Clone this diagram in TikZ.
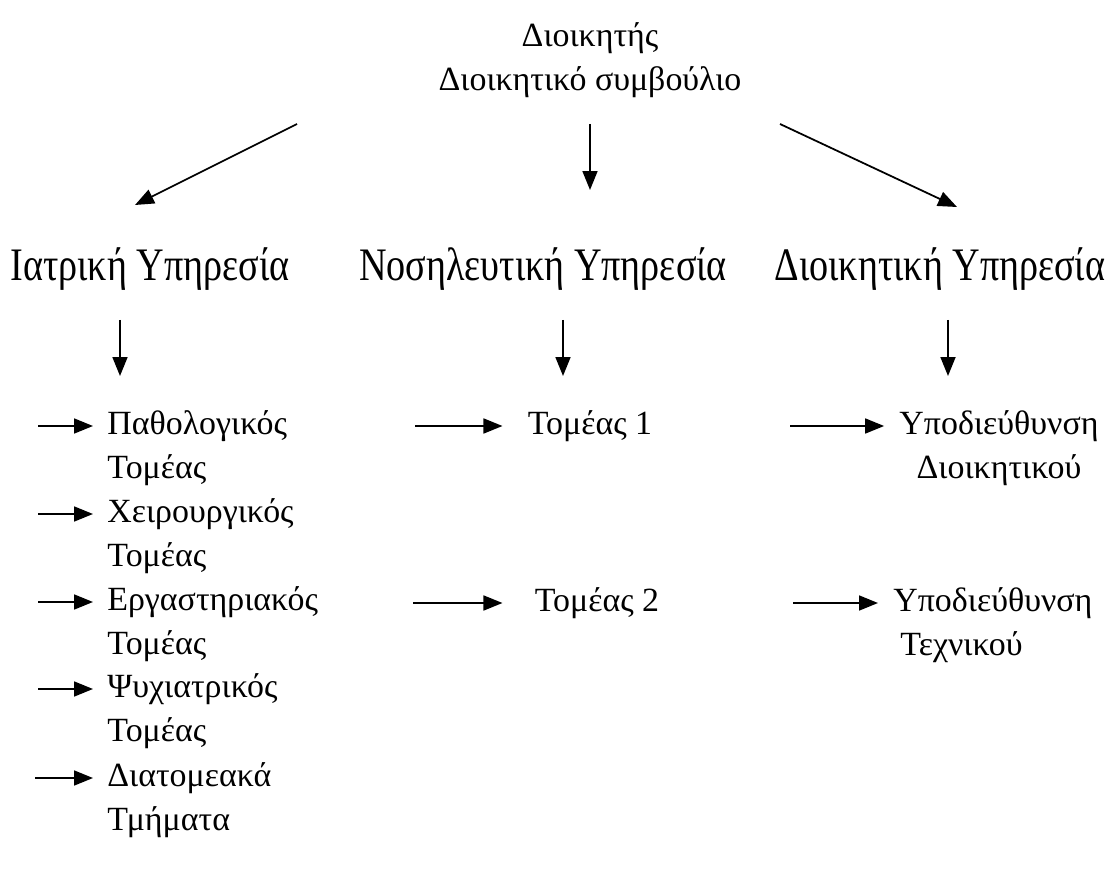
\documentclass[tikz,border=0pt]{standalone}
\usepackage{fontspec}
\setmainfont{Liberation Serif}
\newfontfamily\narrowfont[FakeStretch=0.82]{Liberation Serif}
\usetikzlibrary{arrows.meta,positioning}

\begin{document}
\begin{tikzpicture}[x=0.02cm, y=-0.02cm,
  txt/.style={font=\fontsize{19.3}{25}\selectfont, inner sep=0pt, align=left},
  svc/.style={font=\narrowfont\fontsize{26.5}{30}\selectfont, inner sep=0pt},
  arr/.style={-{Triangle[length=0.38cm, width=0.3cm]}, line width=1pt}
]
  \useasboundingbox (0,0) rectangle (1115,888);

  % Head
  \node[txt, align=center] (head) at (590,60) {Διοικητής\\Διοικητικό συμβούλιο};

  % Services
  \node[svc] (med) at (150,269) {Ιατρική Υπηρεσία};
  \node[svc] (nurs) at (543,269) {Νοσηλευτική Υπηρεσία};
  \node[svc] (adm) at (940,269) {Διοικητική Υπηρεσία};

  % Head to services
  \coordinate (hm) at (297,124); \coordinate (me) at (135,205);
  \coordinate (hn) at (590,124); \coordinate (ne) at (590,190);
  \coordinate (ha) at (780,124); \coordinate (ae) at (957,207);
  \draw[arr] (hm) -- (me);
  \draw[arr] (hn) -- (ne);
  \draw[arr] (ha) -- (ae);

  % Down arrows
  \foreach \s/\x in {med/120, nurs/563, adm/948} {
    \coordinate (\s-d) at (\x,320);
    \coordinate (\s-e) at (\x,376);
    \draw[arr] (\s-d) -- (\s-e);
  }

  % Medical sectors
  \foreach \n/\y/\x/\a/\b in {pat/448/38/Παθολογικός/Τομέας,
                              chi/536/38/Χειρουργικός/Τομέας,
                              erg/624/38/Εργαστηριακός/Τομέας,
                              psy/711/38/Ψυχιατρικός/Τομέας,
                              dia/800/35/Διατομεακά/Τμήματα} {
    \node[txt, anchor=west] (\n) at (107,\y) {\a\\\b};
    \coordinate (\n-s) at (\x,\y-22);
    \draw[arr, shorten >=0.28cm] (\n-s) -- (\n-s -| \n.west);
  }

  % Nursing sectors
  \node[txt] (t1) at (590,426) {Τομέας 1};
  \node[txt] (t2) at (597,603) {Τομέας 2};
  \coordinate (t1-s) at (415,426);
  \coordinate (t2-s) at (413,603);
  \draw[arr, shorten >=0.5cm] (t1-s) -- (t1-s -| t1.west);
  \draw[arr, shorten >=0.64cm] (t2-s) -- (t2-s -| t2.west);

  % Administrative sub-directorates
  \node[txt, align=center] (sub1) at (999,448) {Υποδιεύθυνση\\Διοικητικού};
  \node[txt, anchor=west] (sub2) at (893,625) {Υποδιεύθυνση\\\hspace*{0.14cm}Τεχνικού};
  \coordinate (s1-s) at (790,426);
  \coordinate (s2-s) at (793,603);
  \draw[arr, shorten >=0.3cm] (s1-s) -- (s1-s -| sub1.west);
  \draw[arr, shorten >=0.3cm] (s2-s) -- (s2-s -| sub2.west);
\end{tikzpicture}
\end{document}
